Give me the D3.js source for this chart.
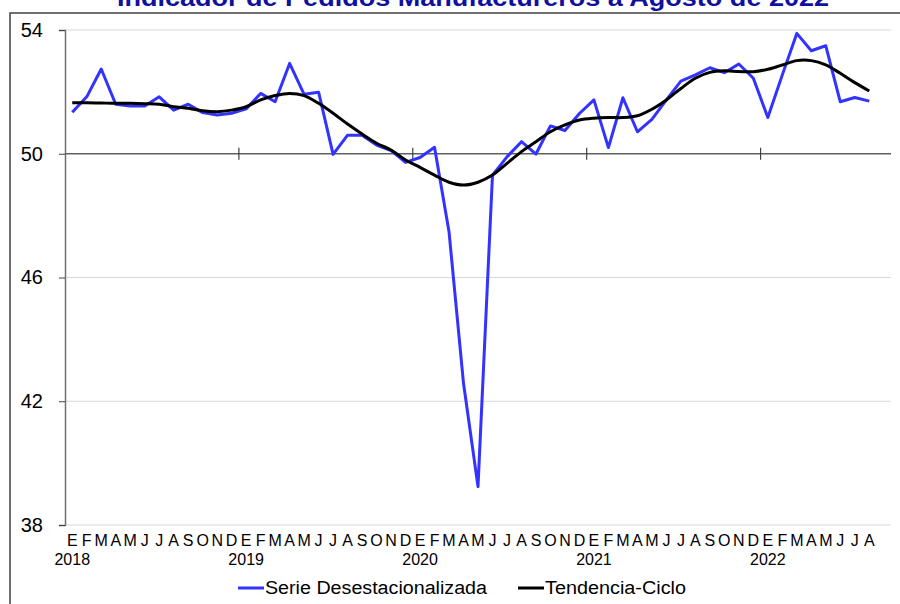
<!DOCTYPE html>
<html>
<head>
<meta charset="utf-8">
<script src="https://cdn.jsdelivr.net/npm/d3@7"></script>
<style>
  body { margin: 0; background: #fff; }
  #drawing-area { width: 900px; height: 604px; }
  text { font-family: "Liberation Sans", Arial, sans-serif; }
</style>
</head>
<body>
<div id="drawing-area"></div>
<script>
// months Jan 2018 .. Aug 2022
var month_letters = ["E","F","M","A","M","J","J","A","S","O","N","D"];
var years = ["2018", "2019", "2020", "2021", "2022"];
var y_ticks = [38, 42, 46, 50, 54];

var serie = [
    51.34, 51.84, 52.74, 51.60, 51.54, 51.54, 51.84, 51.41, 51.60, 51.33, 51.25, 51.31,
    51.45, 51.95, 51.68, 52.92, 51.92, 51.99, 49.98, 50.60, 50.60, 50.28, 50.10, 49.72,
    49.88, 50.21, 47.48, 42.58, 39.24, 49.31, 49.90, 50.39, 49.99, 50.90, 50.75, 51.30,
    51.74, 50.20, 51.81, 50.71, 51.11, 51.74, 52.35, 52.55, 52.78, 52.62, 52.90, 52.44,
    51.17, 52.55, 53.89, 53.33, 53.49, 51.68, 51.82, 51.70
];

var tendencia = [
    51.65, 51.65, 51.64, 51.63, 51.63, 51.62, 51.60, 51.52, 51.47, 51.39, 51.36, 51.41,
    51.52, 51.74, 51.88, 51.95, 51.88, 51.63, 51.31, 50.96, 50.64, 50.34, 50.12, 49.80,
    49.56, 49.31, 49.08, 48.99, 49.08, 49.31, 49.69, 50.07, 50.39, 50.71, 50.93, 51.09,
    51.15, 51.17, 51.17, 51.23, 51.44, 51.74, 52.11, 52.44, 52.63, 52.68, 52.66, 52.65,
    52.73, 52.87, 53.01, 53.01, 52.87, 52.60, 52.30, 52.03
];

function draw_chart() {
    var sx = 900, sy = 604;
    var svg = d3.select('#drawing-area').append('svg').attr('width', sx).attr('height', sy);

    var n_slots = 57;
    var x = d3.scaleLinear().domain([0, n_slots]).range([65, 891]);
    var y = d3.scaleLinear().domain([38, 54]).range([525, 30]);
    function xc(i) { return x(i + 0.5); }

    // outer frame
    svg.append("rect")
        .attr("x", 10).attr("y", 13).attr("width", 900).attr("height", 600)
        .attr("fill", "none").attr("stroke", "#404040").attr("stroke-width", 1.5);

    // title (cut at the top, as in the original)
    svg.append("text")
        .attr("x", 473).attr("y", 6)
        .attr("text-anchor", "middle")
        .attr("font-size", 24).attr("font-weight", "bold")
        .attr("fill", "#1010a0")
        .attr("textLength", 712)
        .attr("lengthAdjust", "spacingAndGlyphs")
        .text("Indicador de Pedidos Manufactureros a Agosto de 2022");

    // grid lines
    svg.append("g").selectAll("line")
        .data(y_ticks.filter(function (d) { return d != 50; }))
        .enter().append("line")
        .attr("x1", x(0)).attr("x2", x(n_slots))
        .attr("y1", function (d) { return y(d); })
        .attr("y2", function (d) { return y(d); })
        .attr("stroke", "#d9d9d9").attr("stroke-width", 1.2);

    // y axis
    var yaxis = d3.axisLeft(y).tickValues(y_ticks).tickSize(6).tickPadding(16);
    var gy = svg.append("g").attr("transform", "translate(" + x(0) + ",0)").call(yaxis);
    gy.select(".domain").attr("stroke", "#707070").attr("stroke-width", 1.5);
    gy.selectAll(".tick line").attr("stroke", "#404040");
    gy.selectAll(".tick text")
        .attr("font-size", 20).attr("fill", "#000")
        .attr("font-family", "Liberation Sans, Arial, sans-serif");

    // x axis line at 50 with year ticks
    var gx = svg.append("g");
    gx.append("line")
        .attr("x1", x(0)).attr("x2", x(n_slots))
        .attr("y1", y(50)).attr("y2", y(50))
        .attr("stroke", "#606060").attr("stroke-width", 1.5);
    gx.selectAll("line.yt")
        .data([12, 24, 36, 48])
        .enter().append("line")
        .attr("class", "yt")
        .attr("x1", function (d) { return x(d); })
        .attr("x2", function (d) { return x(d); })
        .attr("y1", y(50) - 6).attr("y2", y(50) + 6)
        .attr("stroke", "#404040").attr("stroke-width", 1.2);

    // month letters and years
    var n = serie.length;
    var months = [];
    for (var i = 0; i < n; i++)
        months.push({ i: i, m: month_letters[i % 12] });

    svg.append("g").selectAll("text")
        .data(months)
        .enter().append("text")
        .attr("x", function (d) { return xc(d.i); })
        .attr("y", 546)
        .attr("text-anchor", "middle")
        .attr("font-size", 16)
        .text(function (d) { return d.m; });

    svg.append("g").selectAll("text")
        .data(years)
        .enter().append("text")
        .attr("x", function (d, j) { return xc(j * 12); })
        .attr("y", 565)
        .attr("text-anchor", "middle")
        .attr("font-size", 16)
        .text(function (d) { return d; });

    // lines
    var line_serie = d3.line()
        .x(function (d, i) { return xc(i); })
        .y(function (d) { return y(d); });
    var line_tend = d3.line()
        .x(function (d, i) { return xc(i); })
        .y(function (d) { return y(d); })
        .curve(d3.curveCatmullRom.alpha(0.5));

    svg.append("path")
        .attr("d", line_serie(serie))
        .attr("fill", "none").attr("stroke", "#3333ff")
        .attr("stroke-width", 3).attr("stroke-linejoin", "round");

    svg.append("path")
        .attr("d", line_tend(tendencia))
        .attr("fill", "none").attr("stroke", "#000")
        .attr("stroke-width", 3).attr("stroke-linejoin", "round");

    // legend
    var legend = [
        { name: "Serie Desestacionalizada", color: "#3333ff", x: 238, w: 222 },
        { name: "Tendencia-Ciclo", color: "#000", x: 518, w: 141 }
    ];
    var lg = svg.append("g").selectAll("g")
        .data(legend)
        .enter().append("g");
    lg.append("line")
        .attr("x1", function (d) { return d.x; })
        .attr("x2", function (d) { return d.x + 26; })
        .attr("y1", 588).attr("y2", 588)
        .attr("stroke", function (d) { return d.color; })
        .attr("stroke-width", 3);
    lg.append("text")
        .attr("x", function (d) { return d.x + 27; })
        .attr("y", 594)
        .attr("font-size", 18)
        .attr("textLength", function (d) { return d.w; })
        .attr("lengthAdjust", "spacingAndGlyphs")
        .text(function (d) { return d.name; });
}

draw_chart();
</script>
</body>
</html>
